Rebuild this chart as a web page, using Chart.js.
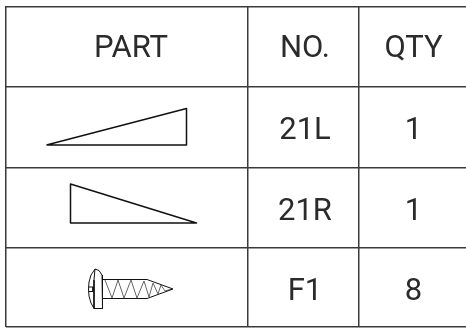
<!DOCTYPE html>
<html>
<head>
<meta charset="utf-8">
<style>
  html, body { margin: 0; padding: 0; background: #fff; }
  #wrap { width: 466px; height: 330px; }
</style>
<script src="https://cdn.jsdelivr.net/npm/chart.js@4"></script>
</head>
<body>
<div id="wrap"><canvas id="partsChart"></canvas></div>
<script>
// table layout, in axis units
const columnEdges = [6, 248, 359]
const rowEdges = [6.5, 86.5, 167.5, 248, 327]

const headers = ["PART", "NO.", "QTY"]
const partNumbers = ["21L", "21R", "F1"]
const quantities = ["1", "1", "8"]

// where the labels sit in each cell
const labelColumns = [131, 305, 413.5]
const labelBaselines = [56.5, 138.5, 219.5, 300]

// part sketches
const wedgeLeft = [[46.5, 145], [186.5, 108.5], [186.5, 145], [46.5, 145]]
const wedgeRight = [[70.5, 184], [70.5, 223], [196.5, 223], [70.5, 184]]
const screwHead = [[102.5, 308.5], [94, 308.5], [91, 303], [89, 296], [88.5, 289], [89, 282], [91, 275], [95, 269], [99, 270.5], [102, 275], [102.5, 280], [102.5, 308.5]]
const screwInner = [[95, 269], [94, 280], [94, 298], [94, 308.5]]
const screwSlot = [[88.5, 287], [93, 287], [93, 291.5], [88.5, 291.5]]
const screwShank = [[102.5, 279.5], [147, 279.5], [173, 289], [147, 298.5], [102.5, 298.5]]
const screwThread = [[105, 280], [112, 298], [118, 280], [124, 298], [131, 280], [137, 298], [144, 281], [149, 297], [153, 283], [158, 294], [161, 285], [165, 291], [172, 289]]

const sketches = [wedgeLeft, wedgeRight, screwHead, screwInner, screwSlot, screwShank, screwThread]

const cellText = {
    id: "cellText",
    afterDatasetsDraw(chart) {
        const { ctx, scales } = chart
        ctx.save()
        ctx.fillStyle = "#2b2b2b"
        ctx.font = "31px Roboto"
        ctx.textAlign = "center"
        ctx.textBaseline = "alphabetic"
        const put = (label, col, row) => {
            ctx.fillText(label, scales.x.getPixelForValue(labelColumns[col]), scales.y.getPixelForValue(labelBaselines[row]))
        }
        headers.forEach((label, i) => put(label, i, 0))
        partNumbers.forEach((label, i) => put(label, 1, i + 1))
        quantities.forEach((label, i) => put(label, 2, i + 1))
        ctx.restore()
    }
}

new Chart("partsChart", {
    type: "scatter",
    data: {
        datasets: sketches.map((points, i) => ({
            data: points.map(p => ({ x: p[0], y: p[1] })),
            showLine: true,
            borderColor: i == 6 ? "#666" : "#111",
            borderWidth: i < 2 ? 1.5 : 1,
            borderJoinStyle: "round",
            pointRadius: 0,
            tension: 0
        }))
    },
    options: {
        responsive: true,
        maintainAspectRatio: false,
        animation: false,
        layout: { padding: { left: 6, top: 6, right: 0, bottom: 3 } },
        plugins: { legend: { display: false }, tooltip: { enabled: false } },
        scales: {
            x: {
                type: "linear",
                position: "top",
                min: 6,
                max: 466,
                afterBuildTicks: axis => { axis.ticks = columnEdges.map(v => ({ value: v })) },
                ticks: { display: false },
                border: { display: false },
                grid: { color: "#3a3a3a", lineWidth: 1.5, drawTicks: false }
            },
            y: {
                type: "linear",
                reverse: true,
                min: 6,
                max: 327,
                afterBuildTicks: axis => { axis.ticks = rowEdges.map(v => ({ value: v })) },
                ticks: { display: false },
                border: { display: false },
                grid: { color: "#3a3a3a", lineWidth: 1.5, drawTicks: false }
            }
        }
    },
    plugins: [cellText]
})
</script>
</body>
</html>
